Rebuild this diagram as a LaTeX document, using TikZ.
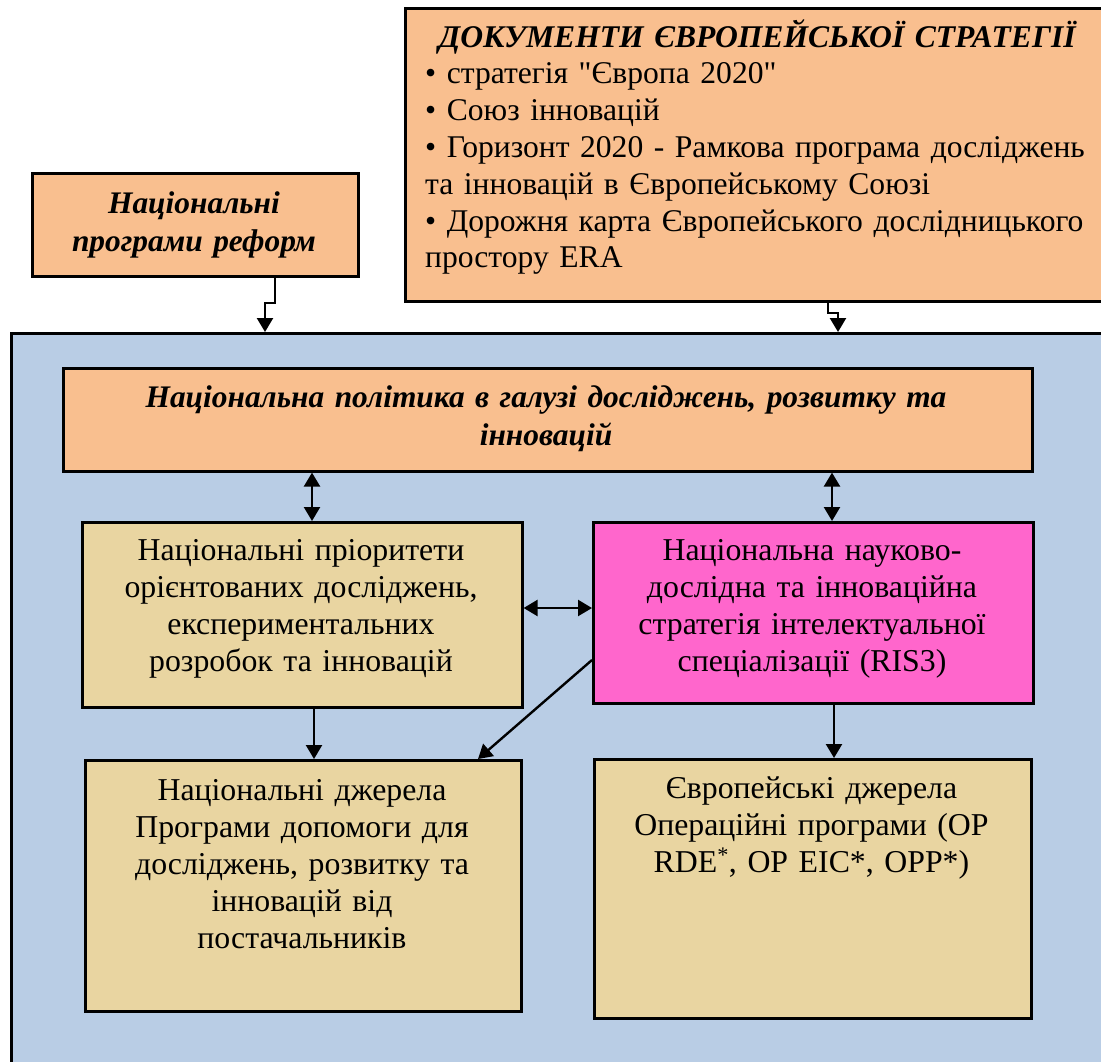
\documentclass[tikz,border=0pt]{standalone}
\usepackage{fontspec}
\setmainfont{Liberation Serif}[Ligatures=TeXOff]
\usetikzlibrary{arrows.meta}
\definecolor{orangefill}{HTML}{F9BF8F}
\definecolor{bluefill}{HTML}{B9CDE5}
\definecolor{pinkfill}{HTML}{FF66CC}
\definecolor{papyrus}{HTML}{E9D5A1}
\begin{document}
\begin{tikzpicture}[x=1pt,y=-1pt,
  box/.style={draw=black, line width=2.6pt, inner sep=0pt, anchor=north west},
  conn/.style={line width=2.4pt, -{Triangle[length=14pt,width=16pt]}},
  dconn/.style={line width=2.4pt, {Triangle[length=14pt,width=16pt]}-{Triangle[length=14pt,width=16pt]}},
  txt/.style={font=\fontsize{31.8}{37}\selectfont, align=center, inner sep=0pt, anchor=base},
  btxt/.style={txt, font=\fontsize{31.4}{38.5}\selectfont\bfseries\itshape}]
\useasboundingbox (0,0) rectangle (1101,1061);
\begin{scope}
\clip (0,0) rectangle (1101,1061);
\node[box, fill=bluefill, minimum width=1120pt, minimum height=760pt] (panel) at (10,332) {};
\node[box, fill=orangefill, minimum width=720pt, minimum height=293pt] (topdoc) at (404,7) {};
\end{scope}
\node[anchor=base west, inner sep=0pt, text width=664pt, align=left, font=\fontsize{31.6}{36.8}\selectfont] (topdoctext) at (425,47)
 {\makebox[664pt][c]{\bfseries\itshape ДОКУМЕНТИ ЄВРОПЕЙСЬКОЇ СТРАТЕГІЇ}\\
  • стратегія "Європа 2020"\\
  • Союз інновацій\\
  \makebox[664pt][s]{• Горизонт 2020 - Рамкова програма досліджень}\\
  та інновацій в Європейському Союзі\\
  \makebox[664pt][s]{• Дорожня карта Європейського дослідницького}\\
  простору ERA};
\node[box, fill=orangefill, minimum width=326pt, minimum height=103pt] (small) at (31,172) {};
\node[btxt, text width=320pt] (smalltext) at (194,213) {Національні\\програми реформ};
\node[box, fill=orangefill, minimum width=969pt, minimum height=103pt] (policy) at (62,367) {};
\node[btxt, text width=950pt] (policytext) at (546,407) {Національна політика в галузі досліджень, розвитку та\\інновацій};
\node[box, fill=papyrus, minimum width=440pt, minimum height=185pt] (prio) at (81,521) {};
\node[txt, text width=430pt] (priotext) at (301,560) {Національні пріоритети\\орієнтованих досліджень,\\експериментальних\\розробок та інновацій};
\node[box, fill=pinkfill, minimum width=440pt, minimum height=181pt] (ris) at (592,521) {};
\node[txt, text width=430pt] (ristext) at (812,560) {Національна науково-\\дослідна та інноваційна\\стратегія інтелектуальної\\спеціалізації (RIS3)};
\node[box, fill=papyrus, minimum width=436pt, minimum height=251pt] (natsrc) at (84,759) {};
\node[txt, text width=430pt] (natsrctext) at (302,800) {Національні джерела\\Програми допомоги для\\досліджень, розвитку та\\інновацій від\\постачальників};
\node[box, fill=papyrus, minimum width=437pt, minimum height=259pt] (eusrc) at (593,758) {};
\node[txt, text width=430pt] (eusrctext) at (811.5,798) {Європейські джерела\\Операційні програми (OP\\RDE\textsuperscript{*}, OP EIC*, OPP*)};
% connectors
\draw[conn] (275,0 |- small.south) -- (275,303) -- (265,303) -- (265,0 |- panel.north);
\draw[conn] (828,0 |- topdoc.south) -- (828,313) -- (838,313) -- (838,0 |- panel.north);
\draw[dconn] (312,0 |- policy.south) -- (312,0 |- prio.north);
\draw[dconn] (832,0 |- policy.south) -- (832,0 |- ris.north);
\draw[dconn] (prio.east |- 0,608) -- (ris.west |- 0,608);
\draw[conn] (314,0 |- prio.south) -- (314,0 |- natsrc.north);
\draw[conn] (ris.west |- 0,660) -- (478,0 |- natsrc.north);
\draw[conn] (834,0 |- ris.south) -- (834,0 |- eusrc.north);
\end{tikzpicture}
\end{document}
